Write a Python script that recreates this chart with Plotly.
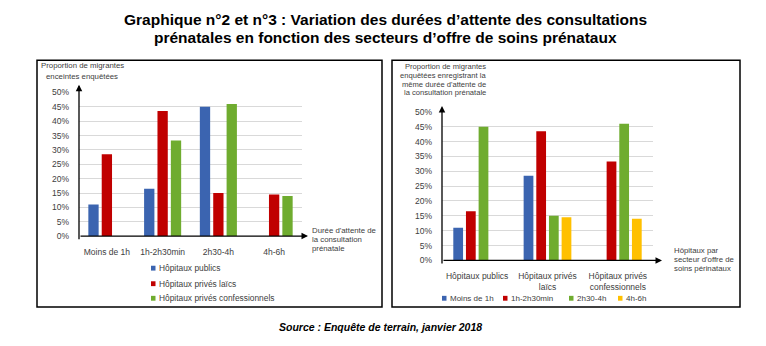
import plotly.graph_objects as go

W, H = 766, 346

# ---- data ----
durations = ["Moins de 1h", "1h-2h30min", "2h30-4h", "4h-6h"]
sectors = ["Hôpitaux publics", "Hôpitaux privés laïcs", "Hôpitaux privés confessionnels"]
sector_ticks = ["Hôpitaux publics", "Hôpitaux privés<br>laïcs", "Hôpitaux privés<br>confessionnels"]

# proportion (%) by sector, for each waiting-time class
publics = [11.0, 16.5, 45.0, 0.0]
prives_laics = [28.5, 43.5, 15.0, 14.5]
prives_confessionnels = [0.0, 33.3, 46.0, 14.0]

y_ticks = [0, 5, 10, 15, 20, 25, 30, 35, 40, 45, 50]
y_tick_labels = ["0%", "5%", "10%", "15%", "20%", "25%", "30%", "35%", "40%", "45%", "50%"]

sector_colors = ["#3B64B0", "#C00000", "#6FAC2F"]
duration_colors = ["#3B64B0", "#C00000", "#6FAC2F", "#FFC000"]

FONT = "Arial, 'Liberation Sans', sans-serif"
TXT = "#404040"

def px(x):
    return x / W

def py(y):
    return 1 - y / H

fig = go.Figure()

by_sector = [publics, prives_laics, prives_confessionnels]

# left chart: x = duration, series = sector
for name, vals, col in zip(sectors, by_sector, sector_colors):
    fig.add_trace(go.Bar(x=durations, y=vals, name=name, marker_color=col,
                         marker_line_width=0, xaxis="x", yaxis="y", showlegend=False))

# right chart: x = sector, series = duration
for i, (name, col) in enumerate(zip(durations, duration_colors)):
    vals = [s[i] for s in by_sector]
    fig.add_trace(go.Bar(x=sector_ticks, y=vals, name=name, marker_color=col,
                         marker_line_width=0, xaxis="x2", yaxis="y2", showlegend=False))

axis_common = dict(showline=False, zeroline=False, ticks="",
                   tickfont=dict(size=8.5, color=TXT, family=FONT))
yaxis_common = dict(axis_common, range=[0, 50], tickvals=y_ticks, ticktext=y_tick_labels,
                    showgrid=True, gridcolor="#D9D9D9", gridwidth=1,
                    ticklabelstandoff=9)

fig.update_layout(
    width=W, height=H,
    margin=dict(l=0, r=0, t=0, b=0),
    paper_bgcolor="white", plot_bgcolor="white",
    font=dict(family=FONT, color=TXT, size=8.5),
    barmode="group", bargap=0.28, bargroupgap=0.23,
    showlegend=False,
    xaxis=dict(axis_common, domain=[px(79), px(302)], anchor="y", showgrid=False,
               ticklabelstandoff=9),
    yaxis=dict(yaxis_common, domain=[py(238), py(90)], anchor="x"),
    xaxis2=dict(axis_common, domain=[px(442), px(653)], anchor="y2", showgrid=False,
                ticklabelstandoff=9),
    yaxis2=dict(yaxis_common, domain=[py(263), py(110)], anchor="x2"),
)

# panel frames
for x0, x1 in [(37, 382), (392, 740)]:
    fig.add_shape(type="rect", xref="paper", yref="paper",
                  x0=px(x0), x1=px(x1), y0=py(311), y1=py(57),
                  line=dict(color="black", width=1.5))

# axis lines with arrows
def arrow(x0, y0, x1, y1):
    fig.add_annotation(xref="paper", yref="paper", x=px(x1), y=py(y1),
                       ax=x0 - x1, ay=y0 - y1, axref="pixel", ayref="pixel",
                       text="", showarrow=True, arrowhead=2, arrowsize=1,
                       arrowwidth=1.3, arrowcolor="black", standoff=0, startstandoff=0)

arrow(79, 238, 79, 82)
arrow(79, 238, 308, 238)
arrow(442, 263, 442, 104)
arrow(442, 263, 662, 263)

def note(text, x, y, xanchor="left", yanchor="middle", align="left", size=8.5, color=TXT,
         bold=False, italic=False):
    fig.add_annotation(xref="paper", yref="paper", x=px(x), y=py(y), text=text,
                       showarrow=False, xanchor=xanchor, yanchor=yanchor, align=align,
                       borderpad=0,
                       font=dict(size=size, color=color, family=FONT,
                                 weight="bold" if bold else "normal",
                                 style="italic" if italic else "normal"))

def lines(texts, x, y0, step, **kw):
    for i, t in enumerate(texts):
        note(t, x, y0 + i * step, **kw)

# legends (small squares + labels)
def legend_item(label, color, x, y, size):
    fig.add_shape(type="rect", xref="paper", yref="paper",
                  x0=px(x), x1=px(x + 4.5), y0=py(y + 2.5), y1=py(y - 2.5),
                  line=dict(width=0), fillcolor=color)
    note(label, x + 7, y, size=size)

for label, col, yy in zip(sectors, sector_colors, [271, 287, 302]):
    legend_item(label, col, 151, yy, 8.4)
for label, col, xx in zip(durations, duration_colors, [442, 503, 569, 618]):
    legend_item(label, col, xx, 302, 8)

# title
lines(["Graphique n°2 et n°3 : Variation des durées d’attente des consultations",
       "prénatales en fonction des secteurs d’offre de soins prénataux"],
      385, 15, 18, xanchor="center", size=15.5, color="black", bold=True)

# axis titles
lines(["Proportion de migrantes", "enceintes enquêtées"], 82, 62.5, 11,
      xanchor="center", size=7.8)
lines(["Durée d'attente de", "la consultation", "prénatale"], 311, 232, 9.3, size=7.8)
lines(["Proportion de migrantes", "enquêtées enregistrant la",
       "même durée d'attente de", "la consultation prénatale"], 487, 63, 9.2,
      xanchor="right", size=7.6)
lines(["Hôpitaux par", "secteur d'offre de", "soins périnataux"], 673, 253, 9.3, size=7.8)

# source
note("Source : Enquête de terrain, janvier 2018", 380, 332, xanchor="center",
     size=10.5, color="black", bold=True, italic=True)

fig.write_html("out.html")
